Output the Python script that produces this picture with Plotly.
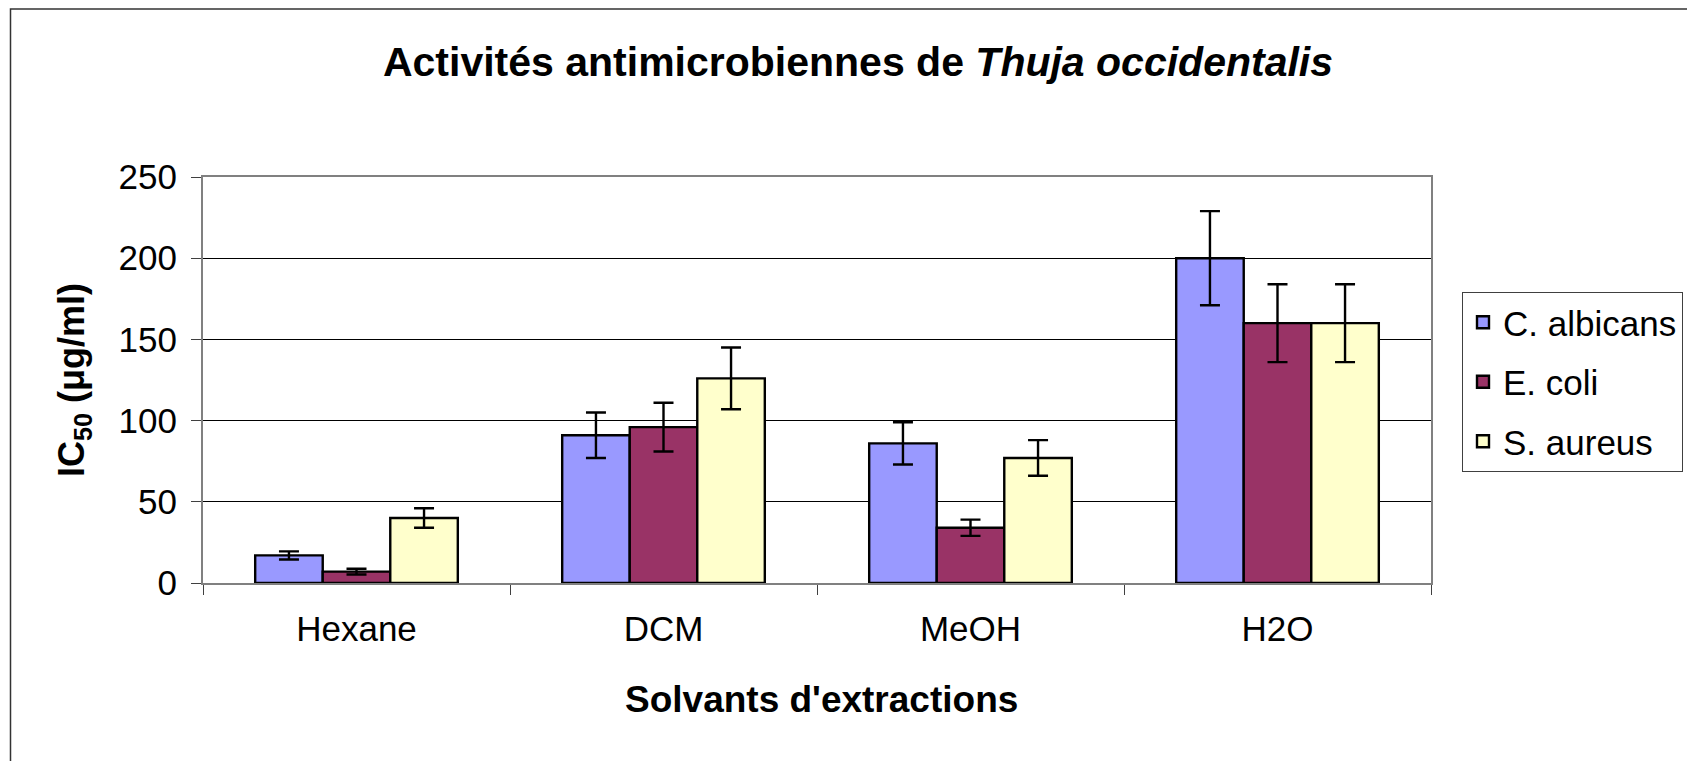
import plotly.graph_objects as go

categories = ["Hexane", "DCM", "MeOH", "H2O"]
series_names = ["C. albicans", "E. coli", "S. aureus"]
c_albicans = [17, 91, 86, 200]
c_albicans_err = [2.5, 14, 13, 29]
e_coli = [7, 96, 34, 160]
e_coli_err = [1.8, 15, 5, 24]
s_aureus = [40, 126, 77, 160]
s_aureus_err = [6, 19, 11, 24]
y_ticks = [0, 50, 100, 150, 200, 250]

colors = ["#9999FF", "#993366", "#FFFFCC"]
values = [c_albicans, e_coli, s_aureus]
errors = [c_albicans_err, e_coli_err, s_aureus_err]

# figure is drawn with the page's 8px body margin, so positions are page - 8
W, H = 1687, 753
L, R, T, B = 195, 1423, 169, 575
pw, ph = R - L, B - T

def px(x):
    return (x - L) / pw

def py(y):
    return (B - y) / ph

FONT = "Liberation Sans, Arial, sans-serif"

fig = go.Figure()
for name, vals, errs, col in zip(series_names, values, errors, colors):
    fig.add_trace(go.Bar(
        x=categories, y=vals, name=name, legendgroup=name,
        marker=dict(color=col, line=dict(color="#000000", width=2.4)),
        error_y=dict(type="data", array=errs, visible=True,
                     color="#000000", thickness=2.4, width=10),
    ))

fig.update_layout(
    width=W, height=H,
    paper_bgcolor="white", plot_bgcolor="white",
    barmode="group", bargap=0.34, bargroupgap=0,
    margin=dict(l=L, r=W - R, t=T, b=H - B, autoexpand=False),
    font=dict(family=FONT, size=35, color="#000000"),
    title=dict(
        text="<b>Activités antimicrobiennes de <i>Thuja occidentalis</i></b>",
        font=dict(family=FONT, size=41, color="#000000"),
        x=850 / W, xref="container", xanchor="center",
        y=1 - 54 / H, yref="container", yanchor="middle",
    ),
    legend=dict(
        x=px(1454), xanchor="left", y=py(284), yanchor="top",
        bordercolor="#404040", borderwidth=1, bgcolor="white",
        font=dict(family=FONT, size=35, color="#000000"),
        tracegroupgap=11, traceorder="grouped",
    ),
    showlegend=True,
)

fig.update_xaxes(
    type="category", showgrid=False, zeroline=False,
    showline=True, linecolor="#808080", linewidth=2, mirror=True,
    ticks="outside", tickson="boundaries", ticklen=10, tickcolor="#404040", tickwidth=1,
    tickfont=dict(family=FONT, size=35, color="#000000"),
    ticklabelstandoff=14,
)
fig.update_yaxes(
    range=[0, 250], tickvals=y_ticks,
    showgrid=True, gridcolor="#000000", gridwidth=1, zeroline=False,
    showline=True, linecolor="#808080", linewidth=2, mirror=True,
    ticks="outside", ticklen=10, tickcolor="#404040", tickwidth=1,
    tickfont=dict(family=FONT, size=35, color="#000000"),
    ticklabelstandoff=7,
)

fig.add_annotation(
    text="<b>IC<sub>50</sub> (μg/ml)</b>", textangle=-90,
    xref="paper", yref="paper", x=px(66), y=py(372),
    xanchor="center", yanchor="middle", showarrow=False,
    font=dict(family=FONT, size=36, color="#000000"),
)
fig.add_annotation(
    text="<b>Solvants d'extractions</b>",
    xref="paper", yref="paper", x=px(813), y=py(691),
    xanchor="center", yanchor="middle", showarrow=False,
    font=dict(family=FONT, size=37, color="#000000"),
)

fig.add_shape(
    type="rect", xref="paper", yref="paper",
    x0=px(2.5), x1=px(W + 20), y0=py(1), y1=py(H + 20),
    line=dict(color="#333333", width=1.5), fillcolor="rgba(0,0,0,0)", layer="below",
)

fig.write_html("out.html")
